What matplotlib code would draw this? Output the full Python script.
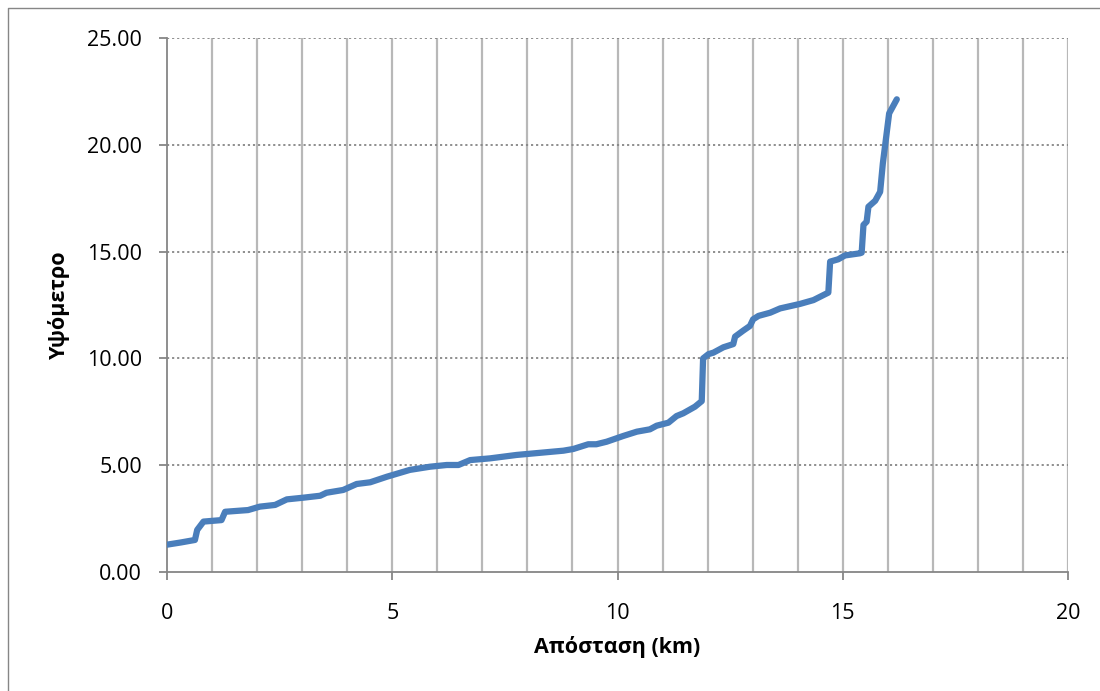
import matplotlib
matplotlib.use("Agg")
import matplotlib.pyplot as plt
from matplotlib.lines import Line2D

plt.rcParams['font.family'] = ['Open Sans', 'DejaVu Sans']

distance_km = [0.0, 0.3, 0.62, 0.67, 0.81, 1.21, 1.29, 1.8, 2.06, 2.4, 2.66, 3.03,
               3.4, 3.54, 3.91, 4.21, 4.51, 4.88, 5.39, 5.84, 6.21, 6.47, 6.73,
               7.17, 7.76, 8.8, 9.02, 9.35, 9.53, 9.76, 10.13, 10.43, 10.72, 10.87,
               11.13, 11.31, 11.46, 11.72, 11.87, 11.9, 12.02, 12.13, 12.35, 12.57,
               12.61, 12.79, 12.94, 13.01, 13.13, 13.39, 13.61, 14.05, 14.35, 14.68,
               14.72, 14.9, 15.05, 15.38, 15.42, 15.46, 15.53, 15.57, 15.72, 15.83,
               15.89, 16.03, 16.2]
elevation = [1.28, 1.38, 1.5, 1.97, 2.36, 2.43, 2.82, 2.9, 3.06, 3.14, 3.4, 3.48,
             3.57, 3.71, 3.84, 4.12, 4.2, 4.46, 4.78, 4.93, 5.01, 5.01, 5.24,
             5.32, 5.48, 5.68, 5.76, 5.98, 5.98, 6.1, 6.37, 6.57, 6.68, 6.85,
             6.99, 7.3, 7.43, 7.74, 8.0, 10.0, 10.2, 10.27, 10.52, 10.67,
             11.02, 11.3, 11.52, 11.83, 11.99, 12.14, 12.34, 12.55, 12.73, 13.08,
             14.53, 14.64, 14.82, 14.92, 14.95, 16.25, 16.4, 17.1, 17.38, 17.8,
             19.13, 21.47, 22.13]

x_ticks = [0, 5, 10, 15, 20]
y_ticks = [0, 5, 10, 15, 20, 25]
x_label = "Απόσταση (km)"
y_label = "Υψόμετρο"

fig = plt.figure(figsize=(11, 6.91), dpi=100)
ax = fig.add_axes([167/1100, 1-572/691, (1068-167)/1100, (572-38)/691])

# outer chart border (only left/top edges are visible in the crop)
bx = 7.5/1100
by = 1 - 7.5/691
fig.lines.append(Line2D([bx, bx, 1.0], [0.0, by, by], transform=fig.transFigure,
                        color='#868686', linewidth=1.0))

ax.set_xlim(0, 20)
ax.set_ylim(0, 25)

for v in range(1, 21):
    ax.axvline(v, color='#b8b8b8', linewidth=1.6, zorder=1)
for h in y_ticks[1:]:
    ax.axhline(h, color='#868686', linewidth=1.3, linestyle=(0, (1.2, 1.6)), zorder=1)

ax.plot(distance_km, elevation, color='#4A7EBB', linewidth=4.5,
        solid_joinstyle='round', solid_capstyle='round', zorder=3)

ax.set_xticks(x_ticks)
ax.set_xticklabels([str(t) for t in x_ticks])
ax.set_yticks(y_ticks)
ax.set_yticklabels([f"{t:.2f}" for t in y_ticks])

for s in ['top', 'right']:
    ax.spines[s].set_visible(False)
for s in ['left', 'bottom']:
    ax.spines[s].set_color('#868686')
    ax.spines[s].set_linewidth(1.3)

ax.tick_params(axis='both', direction='out', length=6, width=1.3, color='#868686',
               labelsize=15.5, labelcolor='black')
ax.tick_params(axis='x', pad=16)
ax.tick_params(axis='y', pad=12)

ax.set_xlabel(x_label, fontsize=15.5, fontweight='bold', labelpad=9)
ax.set_ylabel(y_label, fontsize=15.5, fontweight='bold', labelpad=12)

fig.savefig("out.png", dpi=100)
